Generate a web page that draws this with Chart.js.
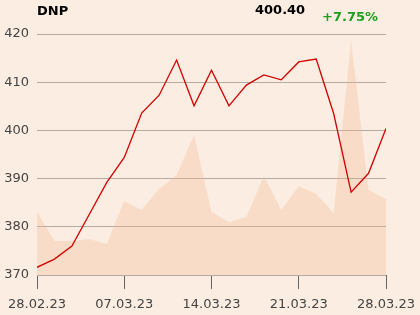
<!DOCTYPE html>
<html>
<head>
<meta charset="utf-8">
<script src="https://cdn.jsdelivr.net/npm/chart.js@4"></script>
<style>
  body { margin: 0; background: #fbede1; }
  #wrap { position: relative; width: 420px; height: 315px; }
  .lbl { position: absolute; font-family: 'DejaVu Sans', sans-serif; font-weight: bold; font-size: 13px; line-height: 1; white-space: nowrap; }
</style>
</head>
<body>
<div id="wrap">
  <canvas id="chart" width="420" height="315"></canvas>
  <div class="lbl" style="left:37px; top:4px; color:#000;">DNP</div>
  <div class="lbl" style="left:255px; top:3px; color:#000;">400.40</div>
  <div class="lbl" style="left:322px; top:10px; color:#1d9e1d;">+7.75%</div>
</div>
<script>
// trading days 28.02.23 - 28.03.23
const dateTicks = ['28.02.23', '07.03.23', '14.03.23', '21.03.23', '28.03.23'];
const prices = [371.6, 373.3, 376.0, 382.6, 389.2, 394.4, 403.6, 407.3, 414.6, 405.1,
                412.5, 405.1, 409.4, 411.5, 410.5, 414.2, 414.8, 403.5, 387.2, 391.1, 400.4];
const volume = [63, 34, 34, 36, 31, 74, 65, 86, 100, 140,
                63, 53, 58, 99, 65, 89, 81, 62, 235, 85, 76];

const days = prices.map((_, i) => i);

new Chart(document.getElementById('chart'), {
  type: 'line',
  data: {
    labels: days,
    datasets: [
      {
        label: 'price',
        data: prices.map((v, i) => ({ x: i, y: v })),
        borderColor: '#d00000',
        borderWidth: 1.3,
        pointRadius: 0,
        tension: 0,
        fill: false,
        yAxisID: 'y',
        order: 0
      },
      {
        label: 'volume',
        data: volume.map((v, i) => ({ x: i, y: v })),
        borderWidth: 0,
        backgroundColor: 'rgba(240,180,140,0.29)',
        pointRadius: 0,
        tension: 0,
        fill: 'origin',
        yAxisID: 'vol',
        order: 1
      }
    ]
  },
  options: {
    responsive: false,
    animation: false,
    layout: { padding: { top: 34, right: 34, left: 0, bottom: 0 } },
    plugins: { legend: { display: false }, tooltip: { enabled: false } },
    scales: {
      x: {
        type: 'linear',
        min: 0,
        max: 20,
        afterFit: s => { s.height = 40; s.paddingLeft = 0; s.paddingRight = 0; },
        afterBuildTicks: s => { s.ticks = [0, 5, 10, 15, 20].map(v => ({ value: v })); },
        grid: { drawOnChartArea: false, drawTicks: true, tickLength: 14, color: '#666' },
        border: { display: false },
        ticks: {
          autoSkip: false,
          maxRotation: 0,
          padding: 8,
          color: '#444',
          font: { family: 'DejaVu Sans', size: 13 },
          callback: v => dateTicks[v / 5]
        }
      },
      y: {
        min: 370,
        max: 420,
        afterFit: s => { s.width = 37; s.paddingTop = 0; s.paddingBottom = 0; },
        ticks: { stepSize: 10, padding: 8, color: '#444', font: { family: 'DejaVu Sans', size: 13 } },
        grid: { color: '#b3aca5', drawTicks: false, lineWidth: 1 },
        border: { display: false }
      },
      vol: {
        display: false,
        min: 0,
        max: 241
      }
    }
  }
});
</script>
</body>
</html>
